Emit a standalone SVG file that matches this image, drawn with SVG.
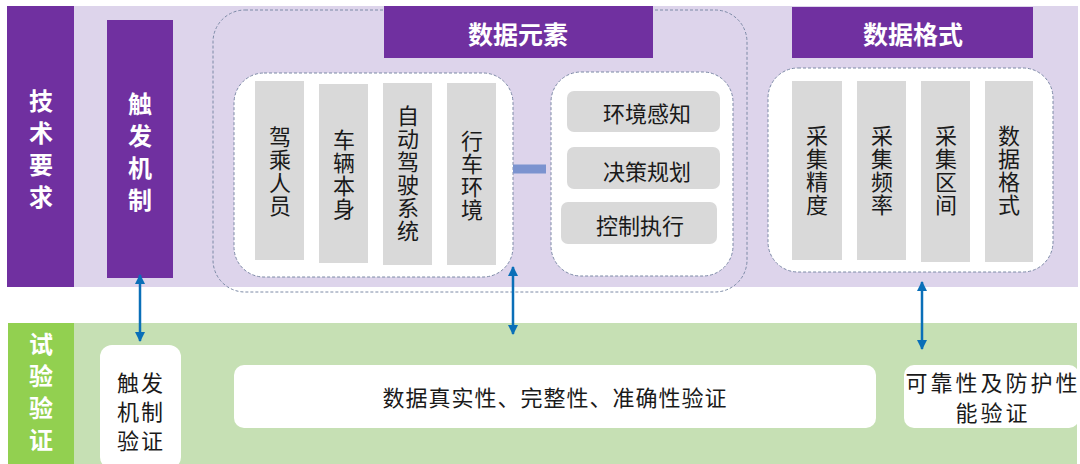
<svg xmlns="http://www.w3.org/2000/svg" width="1080" height="464" viewBox="0 0 1080 464">
<defs>
<style>
.bgTop{fill:#ddd4eb}
.bgBot{fill:#c6e0b4}
.purple{fill:#7030a0}
.green{fill:#92d050}
.gray{fill:#d9d9d9}
.white{fill:#ffffff}
.dash{fill:none;stroke:#7c8aa6;stroke-width:1;stroke-dasharray:3 2}
.dashw{fill:#ffffff;stroke:#7c8aa6;stroke-width:1;stroke-dasharray:3 2}
.tw{font-family:"Noto Sans CJK SC","Noto Sans",sans-serif;font-weight:bold;fill:#ffffff;text-anchor:middle;dominant-baseline:central}
.vw{font-family:"Noto Sans CJK SC","Noto Sans",sans-serif;font-weight:bold;fill:#ffffff;text-anchor:middle;writing-mode:vertical-rl;font-size:24px;letter-spacing:8px}
.tb{font-family:"Noto Sans CJK SC","Noto Sans",sans-serif;fill:#1a1a1a;text-anchor:middle;dominant-baseline:central;font-size:22px}
.vb{font-family:"Noto Sans CJK SC","Noto Sans",sans-serif;fill:#1a1a1a;text-anchor:middle;writing-mode:vertical-rl;font-size:22px;letter-spacing:1px}
.arrow{stroke:#0a6fb8;stroke-width:2.5;fill:none;marker-start:url(#ah);marker-end:url(#ah)}
</style>
<marker id="ah" viewBox="0 0 10 10" refX="9" refY="5" markerWidth="4" markerHeight="4" orient="auto-start-reverse" markerUnits="strokeWidth">
<path d="M0,0 L10,5 L0,10 z" fill="#0a6fb8"/>
</marker>
</defs>

<g id="background">
<rect class="bgTop" x="7" y="6" width="1071" height="281"/>
<rect class="bgBot" x="8" y="323" width="1069" height="141"/>
</g>

<g id="node-jishuyaoqiu">
<rect class="purple" x="7" y="6" width="67" height="281"/>
<text class="vw" x="41" y="153">技术要求</text>
</g>

<g id="node-chufajizhi">
<rect class="purple" x="107" y="20" width="66" height="258"/>
<text class="vw" x="140" y="156">触发机制</text>
</g>

<g id="group-shujuyuansu">
<rect class="dash" x="213" y="10" width="534" height="282" rx="32"/>
</g>

<g id="node-shujuyuansu-header">
<rect class="purple" x="384" y="6" width="269" height="52"/>
<text class="tw" font-size="25" x="518" y="33">数据元素</text>
</g>

<g id="node-left-elements">
<rect class="dashw" x="234" y="73" width="279" height="204" rx="30"/>
<rect class="gray" x="255" y="81" width="49" height="179"/>
<text class="vb" x="280" y="172">驾乘人员</text>
<rect class="gray" x="319" y="84" width="49" height="179"/>
<text class="vb" x="344" y="175">车辆本身</text>
<rect class="gray" x="383" y="83" width="49" height="182"/>
<text class="vb" x="408" y="174">自动驾驶系统</text>
<rect class="gray" x="447" y="83" width="49" height="182"/>
<text class="vb" x="472" y="176">行车环境</text>
</g>

<g id="node-right-elements">
<rect class="dashw" x="551" y="72" width="182" height="204" rx="30"/>
<rect class="gray" x="567" y="91" width="153" height="41" rx="7"/>
<text class="tb" x="647" y="112">环境感知</text>
<rect class="gray" x="567" y="147" width="153" height="42" rx="7"/>
<text class="tb" x="647" y="170">决策规划</text>
<rect class="gray" x="561" y="202" width="156" height="42" rx="7"/>
<text class="tb" x="640" y="224">控制执行</text>
</g>

<g id="node-shujugeshi-header">
<rect class="purple" x="792" y="7" width="241" height="51"/>
<text class="tw" font-size="25" x="913" y="33">数据格式</text>
</g>

<g id="node-format-items">
<rect class="dashw" x="768" y="68" width="285" height="204" rx="30"/>
<rect class="gray" x="792" y="81" width="50" height="179"/>
<text class="vb" x="817" y="171">采集精度</text>
<rect class="gray" x="857" y="81" width="49" height="179"/>
<text class="vb" x="882" y="171">采集频率</text>
<rect class="gray" x="921" y="81" width="49" height="181"/>
<text class="vb" x="946" y="171">采集区间</text>
<rect class="gray" x="985" y="81" width="48" height="181"/>
<text class="vb" x="1009" y="171">数据格式</text>
</g>

<g id="node-shiyanyanzheng">
<rect class="green" x="8" y="323" width="66" height="141"/>
<text class="vw" x="41" y="396" letter-spacing="6">试验验证</text>
</g>

<g id="node-chufa-verify">
<rect class="white" x="100" y="345" width="81" height="124" rx="12"/>
<text class="tb" x="141" y="381" font-size="20" letter-spacing="2">触发</text>
<text class="tb" x="141" y="410" font-size="20" letter-spacing="2">机制</text>
<text class="tb" x="141" y="439" font-size="20" letter-spacing="2">验证</text>
</g>

<g id="node-data-verify">
<rect class="white" x="234" y="365" width="642" height="63" rx="10"/>
<text class="tb" x="555" y="396" letter-spacing="1">数据真实性、完整性、准确性验证</text>
</g>

<g id="node-reliability-verify">
<rect class="white" x="904" y="365" width="175" height="63" rx="10"/>
<text class="tb" x="993" y="381" font-size="19" letter-spacing="3">可靠性及防护性</text>
<text class="tb" x="993" y="411" font-size="19" letter-spacing="3">能验证</text>
</g>

<g id="connectors">
<line x1="513" y1="169" x2="546" y2="169" stroke="#7b93cf" stroke-width="9"/>
<line class="arrow" x1="140" y1="275" x2="140" y2="341"/>
<line class="arrow" x1="513" y1="267" x2="513" y2="334"/>
<line class="arrow" x1="922" y1="282" x2="922" y2="349"/>
</g>
</svg>
